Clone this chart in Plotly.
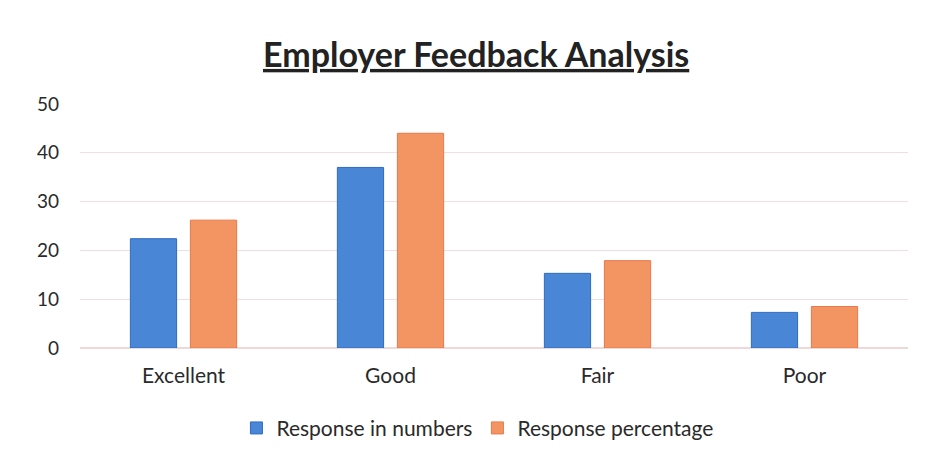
import plotly.graph_objects as go

categories = ["Excellent", "Good", "Fair", "Poor"]
response_numbers = [22.4, 37.0, 15.3, 7.3]
response_percentage = [26.2, 44.0, 17.9, 8.5]
y_ticks = [0, 10, 20, 30, 40, 50]

FONT = "Lato, Open Sans, sans-serif"

fig = go.Figure()
fig.add_trace(go.Bar(
    x=categories, y=response_numbers, name="Response in numbers",
    marker=dict(color="#4a86d6", line=dict(color="#2f6bc0", width=1)),
))
fig.add_trace(go.Bar(
    x=categories, y=response_percentage, name="Response percentage",
    marker=dict(color="#f39563", line=dict(color="#e8784a", width=1)),
))

fig.update_layout(
    width=927, height=461,
    paper_bgcolor="white", plot_bgcolor="white",
    margin=dict(l=72, r=27, t=96, b=121),
    barmode="group", bargap=0.42, bargroupgap=0.23,
    title=dict(text="<b><u>Employer Feedback Analysis</u></b>",
               x=0.505, xanchor="center", y=0.898, yanchor="middle",
               font=dict(family=FONT, size=34, color="#222222")),
    font=dict(family=FONT, color="#2a2a2a"),
    legend=dict(orientation="h", x=0.48, xanchor="center", y=-0.245, yanchor="top",
                font=dict(size=21, color="#2a2a2a"), itemwidth=30,
                traceorder="normal"),
    showlegend=True,
)
fig.update_xaxes(showgrid=False, showline=False, ticks="", automargin=False,
                 tickfont=dict(size=21, color="#2a2a2a"), ticklabelstandoff=13)
fig.update_yaxes(range=[0, 50], tickvals=y_ticks, showgrid=True, automargin=False,
                 gridcolor="#f3dede", gridwidth=1, zeroline=True,
                 zerolinecolor="#f0d8d8", showline=False, ticks="",
                 tickfont=dict(size=19, color="#2a2a2a"), ticklabelstandoff=20)

fig.write_html("out.html")
